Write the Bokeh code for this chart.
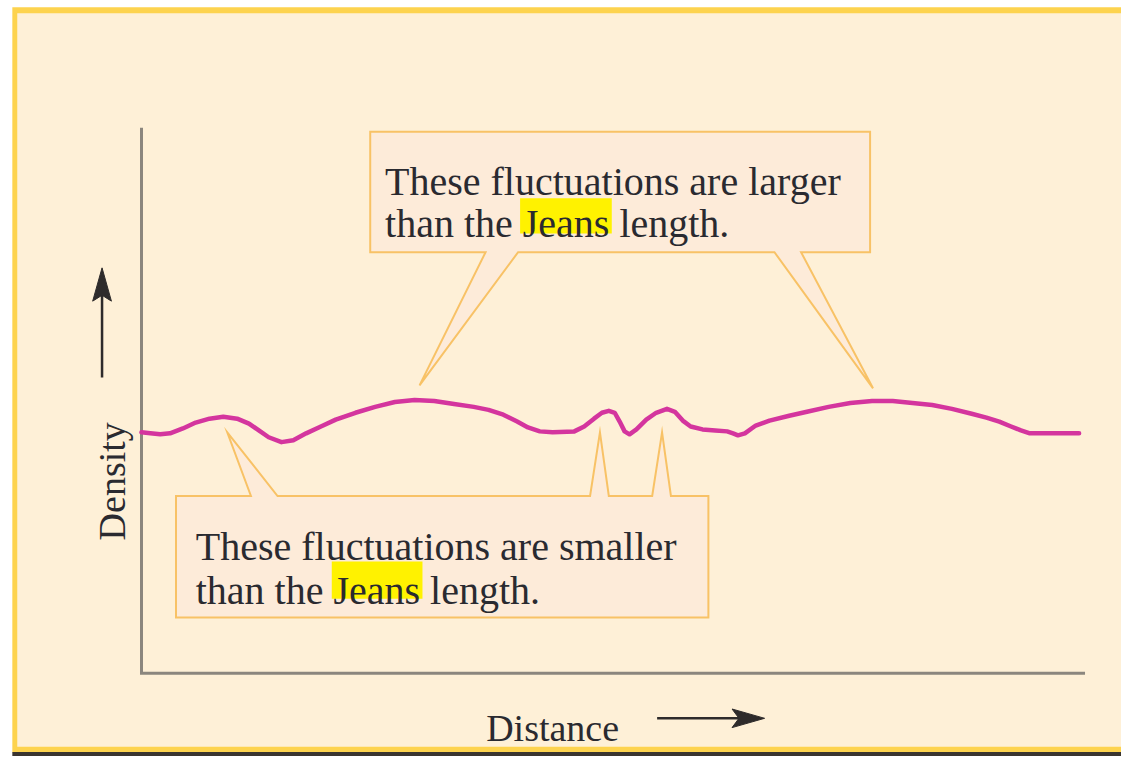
import math
from bokeh.plotting import figure
from bokeh.models import Range1d
from bokeh.core.properties import value
from bokeh.embed import file_html
from bokeh.resources import INLINE

# ---------------- data (arbitrary units) ----------------
distance = [0.0, 0.9, 1.9, 2.9, 4.2, 5.5, 6.9, 8.3, 9.7, 10.9, 11.9, 12.9, 14.2, 15.4,
            16.7, 18.2, 19.7, 21.7, 23.7, 25.7, 27.7, 29.7, 31.7, 33.7, 35.2, 36.7,
            38.1, 39.2, 40.4, 41.7, 43.9, 44.9, 45.9, 46.7, 47.4, 48.0, 48.5, 49.0,
            49.5, 50.2, 51.2, 52.2, 53.3, 54.1, 54.9, 55.7, 56.9, 58.2, 59.4, 60.0,
            60.5, 61.2, 62.3, 63.7, 65.7, 67.5, 69.7, 71.9, 74.1, 76.2, 78.2, 80.2,
            82.2, 84.2, 85.7, 87.0, 88.2, 89.2, 90.1, 91.7, 93.7, 95.1]
density = [24.6, 24.5, 24.4, 24.5, 25.0, 25.6, 26.0, 26.2, 26.0, 25.5, 24.8, 24.1, 23.6, 23.8,
           24.5, 25.2, 25.9, 26.6, 27.2, 27.7, 27.9, 27.8, 27.5, 27.2, 26.9, 26.4,
           25.7, 25.1, 24.7, 24.6, 24.7, 25.2, 26.0, 26.6, 26.8, 26.6, 25.7, 24.7,
           24.4, 24.9, 25.9, 26.6, 27.0, 26.7, 25.8, 25.2, 24.9, 24.8, 24.7, 24.5,
           24.3, 24.5, 25.3, 25.8, 26.3, 26.7, 27.2, 27.6, 27.8, 27.8, 27.6, 27.4,
           27.0, 26.5, 26.1, 25.7, 25.2, 24.8, 24.5, 24.5, 24.5, 24.5]
DIST_MAX = 95.7
DENS_MAX = 55.7

x_label = "Distance"
y_label = "Density"
top_lines = ["These fluctuations are larger", "than the Jeans length."]
bottom_lines = ["These fluctuations are smaller", "than the Jeans length."]

# ---------------- styling ----------------
FONT = value("Liberation Serif")
TEXT_C = "#2a2a30"
CREAM = "#fef0d7"
YELLOW = "#fdd34e"
BOX_FILL = "#fdebd9"
BOX_LINE = "#f8c266"
CURVE_C = "#d4359e"
AXIS_C = "#8b867e"
HIGHLIGHT = "#fff200"
INK = "#2e2b2b"

W, H = 1121, 756
REF_W, REF_H = 1137, 772   # decoration coordinates are layout pixels of the full picture
AX_X0, AX_Y0 = 143, 687    # axis origin in layout pixels
UNIT = 10.0                # layout pixels per data unit

p = figure(width=W, height=H,
           x_range=Range1d(0, REF_W), y_range=Range1d(REF_H, 0),
           output_backend="svg", toolbar_location=None,
           x_axis_type=None, y_axis_type=None, min_border=0)
p.min_border_left = p.min_border_right = p.min_border_top = p.min_border_bottom = 0
p.outline_line_color = None
p.background_fill_color = "white"
p.border_fill_color = "white"
p.extra_x_ranges = {"dist": Range1d((0 - AX_X0) / UNIT, (REF_W - AX_X0) / UNIT)}
p.extra_y_ranges = {"dens": Range1d((AX_Y0 - REF_H) / UNIT, (AX_Y0 - 0) / UNIT)}

# frame border
p.quad(left=[12], right=[1300], top=[7], bottom=[768], fill_color=YELLOW, line_color=None)
p.quad(left=[17], right=[1300], top=[13], bottom=[762], fill_color=CREAM, line_color=None)
p.quad(left=[12], right=[1300], top=[767.5], bottom=[800], fill_color="#3a3530", line_color=None)

# axes
p.line([0, 0, DIST_MAX], [DENS_MAX, 0, 0], x_range_name="dist", y_range_name="dens",
       line_color=AXIS_C, line_width=3, line_join="miter")

# callouts
top_x = [375, 882, 882, 812, 885, 785, 525, 425, 492, 375]
top_y = [134, 134, 257, 257, 396, 257, 257, 393, 257, 257]
p.patch(top_x, top_y, fill_color=BOX_FILL, line_color=BOX_LINE, line_width=2, line_join="miter")
bot_x = [178, 254, 230, 281, 598, 608, 617, 661, 671, 680, 718, 718, 178]
bot_y = [506, 506, 441, 506, 506, 441, 506, 506, 441, 506, 506, 630, 630]
p.patch(bot_x, bot_y, fill_color=BOX_FILL, line_color=BOX_LINE, line_width=2, line_join="miter")

# highlights behind "Jeans"
p.quad(left=[527, 336], right=[620, 428], top=[202, 573], bottom=[238, 611],
       fill_color=HIGHLIGHT, line_color=None)

# density curve
p.line(distance, density, x_range_name="dist", y_range_name="dens",
       line_color=CURVE_C, line_width=4.5, line_join="round", line_cap="round")

# callout texts
p.text(x=[390, 390], y=[185, 228], text=top_lines, text_font=FONT, text_font_size="40px",
       text_color=TEXT_C, text_align="left", text_baseline="alphabetic")
p.text(x=[198, 198], y=[558, 602], text=bottom_lines, text_font=FONT, text_font_size="40px",
       text_color=TEXT_C, text_align="left", text_baseline="alphabetic")

# axis labels
p.text(x=[560], y=[743], text=[x_label], text_font=FONT, text_font_size="38px",
       text_color=TEXT_C, text_align="center", text_baseline="alphabetic")
p.text(x=[113], y=[491], text=[y_label], text_font=FONT, text_font_size="38px",
       text_color=TEXT_C, text_align="center", text_baseline="alphabetic", angle=math.pi / 2)

# arrows
p.line([666, 750], [733, 733], line_color=INK, line_width=2.5)
p.patch([775, 742, 749, 742], [733, 723.5, 733, 742.5], fill_color=INK, line_color=INK, line_width=1)
p.line([103, 103], [385, 300], line_color=INK, line_width=2.5)
p.patch([103, 93.5, 103, 112.5], [273, 307, 301, 307], fill_color=INK, line_color=INK, line_width=1)

open("out.html", "w").write(file_html(p, INLINE))
